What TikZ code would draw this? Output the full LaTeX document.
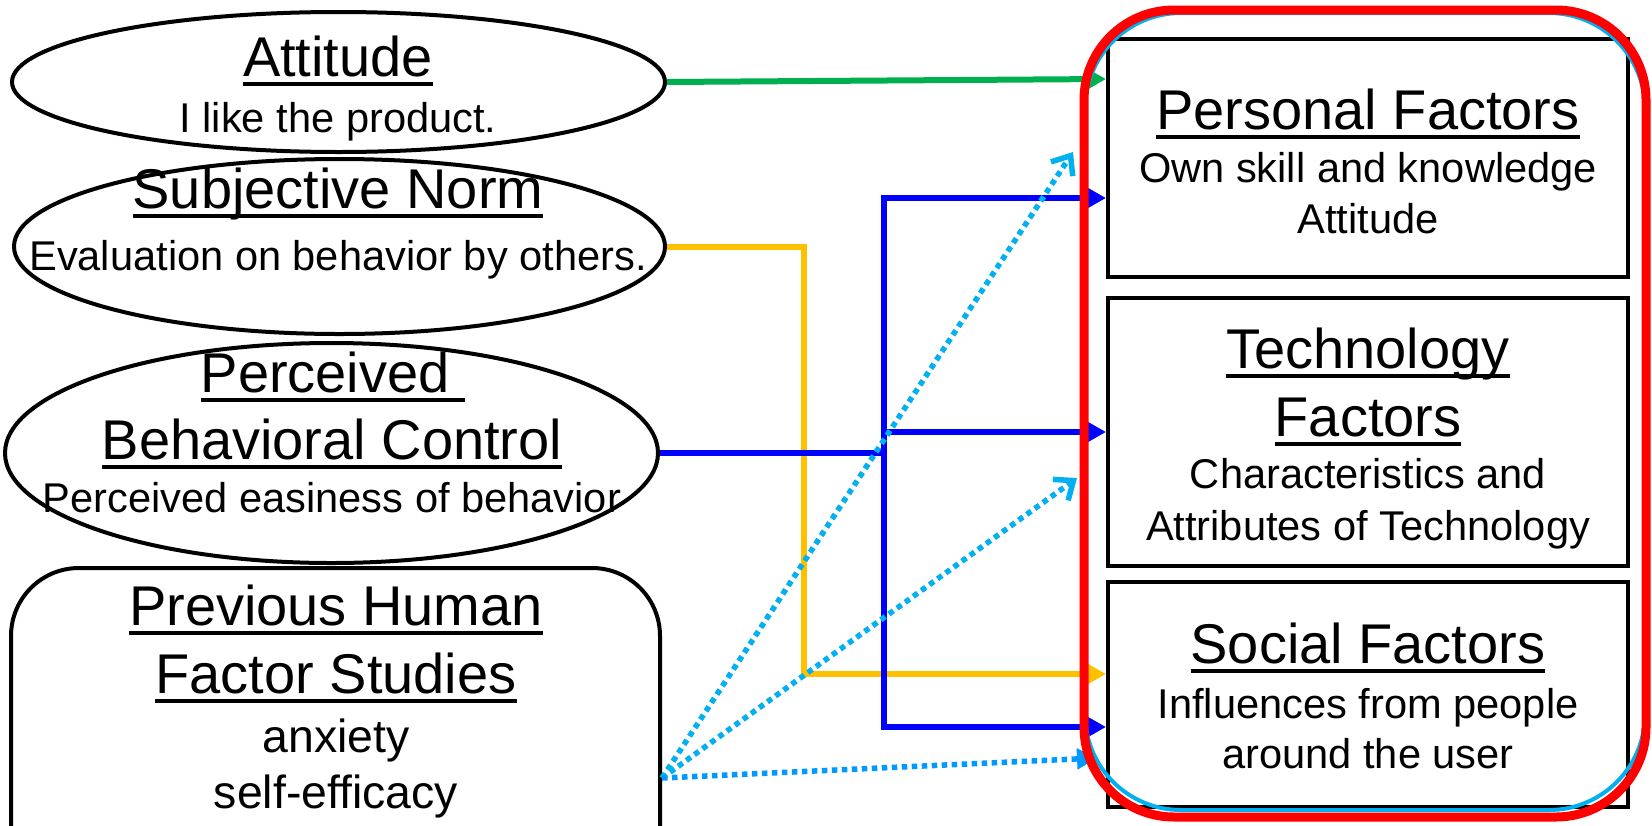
\documentclass[tikz,border=0pt]{standalone}
\usepackage{fontspec}
\setmainfont{Liberation Sans}
\usetikzlibrary{arrows.meta,shapes.geometric}

\definecolor{arrgreen}{RGB}{0,176,80}
\definecolor{arrorange}{RGB}{255,192,0}
\definecolor{arrblue}{RGB}{0,0,255}
\definecolor{dotcyan}{RGB}{0,176,240}
\definecolor{dotblue}{RGB}{0,153,255}
\definecolor{framered}{RGB}{255,0,0}

% underline drawn as a rule under the whole box (trailing spaces included)
\newcommand\ulx[1]{\leavevmode\setbox0\hbox{#1}\rlap{\rule[-0.178em]{\wd0}{0.07em}}\box0}
\newcommand\titlesize{\fontsize{28pt}{34pt}\selectfont}
\newcommand\midsize{\fontsize{23.2pt}{28pt}\selectfont}
\newcommand\subsize{\fontsize{20.8pt}{25pt}\selectfont}

\tikzset{
  oval/.style={ellipse, draw, line width=2pt, inner sep=0pt},
  box/.style={rectangle, draw, line width=2pt, inner sep=0pt},
  ttl/.style={anchor=base, inner sep=0pt, font=\titlesize},
  sub/.style={anchor=base, inner sep=0pt, font=\subsize},
  link/.style={line width=3pt, line join=miter, -{Triangle[length=10.5pt,width=11pt]}},
  dots/.style={line width=2.75pt, dash pattern=on 2.75pt off 2.25pt},
  barb/.style={dots, dotcyan, -{Straight Barb[length=8pt,width=13pt]}},
  dart/.style={dots, dotblue, -{Triangle[length=10pt,width=10pt]}},
}

\begin{document}
\begin{tikzpicture}[x=0.5pt, y=-0.5pt]
\useasboundingbox (0,0) rectangle (1652,825);
\clip (0,0) rectangle (1652,825);
\fill[white] (0,0) rectangle (1652,825);

% ---- left column: theory constructs ----
\node[oval, minimum width=326.5pt, minimum height=70pt] (att) at (338.5,82) {};
\node[oval, minimum width=325.5pt, minimum height=87.5pt] (sn) at (339.5,246.5) {};
\node[oval, minimum width=326.5pt, minimum height=110pt] (pbc) at (331.5,453) {};
\node[box, rounded corners=34pt, minimum width=324.5pt, minimum height=166pt] (prev) at (335.5,734) {};

\node[ttl] (attT) at (338,76) {\ulx{Attitude}};
\node[sub] (attS) at (338,132) {I like the product.};

\node[ttl] (snT) at (338,208) {\ulx{Subjective Norm}};
\node[sub] (snS) at (338,270) {Evaluation on behavior by others.};

\node[ttl] (pbcT1) at (333,392) {\ulx{Perceived\ }};
\node[ttl] (pbcT2) at (332,459) {\ulx{Behavioral Control}};
\node[sub] (pbcS) at (332,512) {Perceived easiness of behavior};

\node[ttl] (prevT1) at (336,625) {\ulx{Previous Human}};
\node[ttl] (prevT2) at (336,693) {\ulx{Factor Studies}};
\node[ttl, font=\midsize] (prevS1) at (336,752) {anxiety};
\node[ttl, font=\midsize] (prevS2) at (336,808) {self-efficacy};

% ---- right column: factor groups ----
\node[box, minimum width=260pt, minimum height=119pt] (pers) at (1368,158) {};
\node[box, minimum width=260pt, minimum height=134pt] (tech) at (1368,432) {};
\node[box, minimum width=260pt, minimum height=112.5pt] (soc)  at (1368,694.5) {};

\node[ttl] (persT) at (1368,129) {\ulx{Personal Factors}};
\node[sub] (persS1) at (1368,182) {Own skill and knowledge};
\node[sub] (persS2) at (1368,233) {Attitude};

\node[ttl] (techT1) at (1368,368) {\ulx{Technology}};
\node[ttl] (techT2) at (1368,436) {\ulx{Factors}};
\node[sub] (techS1) at (1368,488) {Characteristics and};
\node[sub] (techS2) at (1368,540) {Attributes of Technology};

\node[ttl] (socT) at (1368,663) {\ulx{Social Factors}};
\node[sub] (socS1) at (1368,718) {Influences from people};
\node[sub] (socS2) at (1368,768) {around the user};

% ---- connector end points and bus lines ----
\coordinate (gIn) at ([yshift=39.5pt]pers.west);
\coordinate (oIn) at ([yshift=10.25pt]soc.west);
\coordinate (bTop) at ([yshift=-20pt]pers.west);
\coordinate (bMid) at (tech.west);
\coordinate (bBot) at ([yshift=-16.25pt]soc.west);
\coordinate (oBus) at (804,0);
\coordinate (bBus) at (884,0);
\coordinate (src) at (662,778);
\coordinate (cIn1) at ([xshift=-16.5pt,yshift=3pt]pers.west);
\coordinate (cIn2) at ([xshift=-14.5pt,yshift=-23pt]tech.west);
\coordinate (cIn3) at ([xshift=-4.5pt,yshift=-31.75pt]soc.west);

% attitude -> personal
\draw[link, arrgreen] (att.east) -- (gIn);
% subjective norm -> social
\draw[link, arrorange] (sn.east) -- (sn.east -| oBus) -- (oBus |- oIn) -- (oIn);
% perceived behavioral control -> all three groups
\draw[line width=3pt, arrblue] (pbc.east) -- (pbc.east -| bBus);
\draw[link, arrblue] (bBus |- bBot) -- (bBus |- bTop) -- (bTop);
\draw[link, arrblue] (bBus |- bMid) -- (bMid);
\draw[link, arrblue, line cap=rect] (bBus |- bBot) -- (bBot);

% previous studies -> groups (dotted)
\draw[barb] (src) -- (cIn1);
\draw[barb] (src) -- (cIn2);
\draw[dart] (src) -- (cIn3);

% grouping frame round the factor boxes (cyan outline under the red one)
\draw[dotcyan, line width=2pt, rounded corners=48pt] (1085,13) rectangle (1645,810);
\draw[framered, line width=4.5pt, rounded corners=45pt] (1084,10) rectangle (1646,817);
\end{tikzpicture}
\end{document}
